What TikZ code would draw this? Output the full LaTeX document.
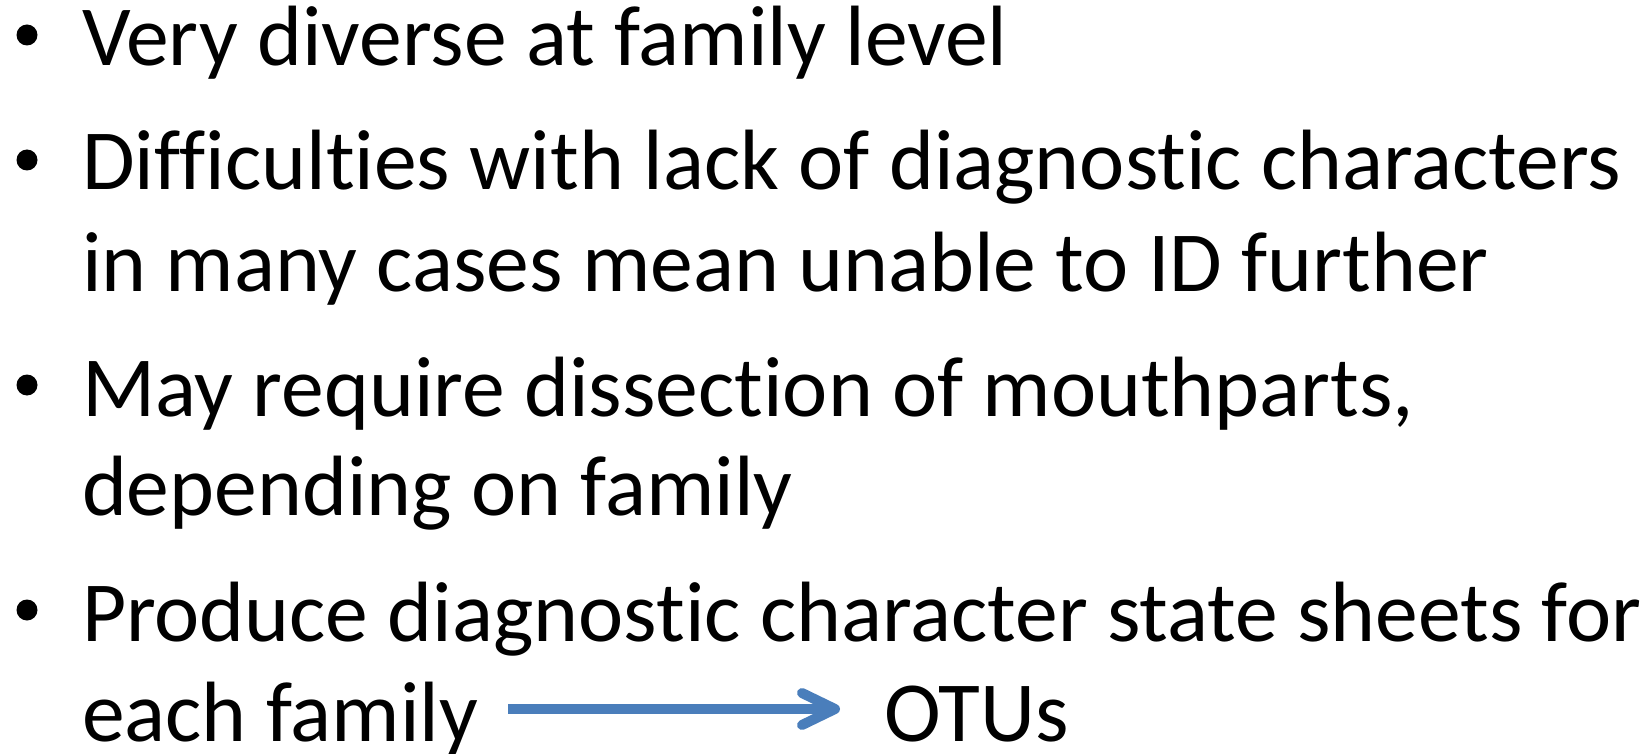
\documentclass[tikz,border=0pt]{standalone}
\usepackage{fontspec}
\setmainfont{Carlito}[RawFeature={-liga}]
\definecolor{arrowblue}{HTML}{4A7EBB}
\begin{document}
\begin{tikzpicture}[x=1pt,y=-1pt,
  txt/.style={anchor=base west,inner sep=0pt,outer sep=0pt,font=\fontsize{85.6}{100}\selectfont},
  bul/.style={fill=black,circle,inner sep=0pt,minimum size=21pt}]
\useasboundingbox (0,0) rectangle (1652,754);
\node[txt] (l1) at (82,66) {Very diverse at family level};
\node[txt] (l2) at (82,190) {Difficulties with lack of diagnostic characters};
\node[txt] (l3) at (82,291) {in many cases mean unable to ID further};
\node[txt] (l4) at (82,416) {May require dissection of mouthparts,};
\node[txt] (l5) at (82,515) {depending on family};
\node[txt] (l6) at (82,641) {Produce diagnostic character state sheets for};
\node[txt] (l7) at (82,741) {each family};
\node[txt] (otu) at (884,741) {OTUs};
\node[bul] (b1) at (27,35) {};
\node[bul] (b2) at (27,160) {};
\node[bul] (b3) at (27,385) {};
\node[bul] (b4) at (27,610) {};
\coordinate (as) at (508,709);
\coordinate (at) at (835,709);
\draw[arrowblue,line width=10pt] (as) -- (at);
\draw[arrowblue,line width=10pt,line cap=round,line join=round] (802,693) -- (at) -- (802,725);
\end{tikzpicture}
\end{document}
